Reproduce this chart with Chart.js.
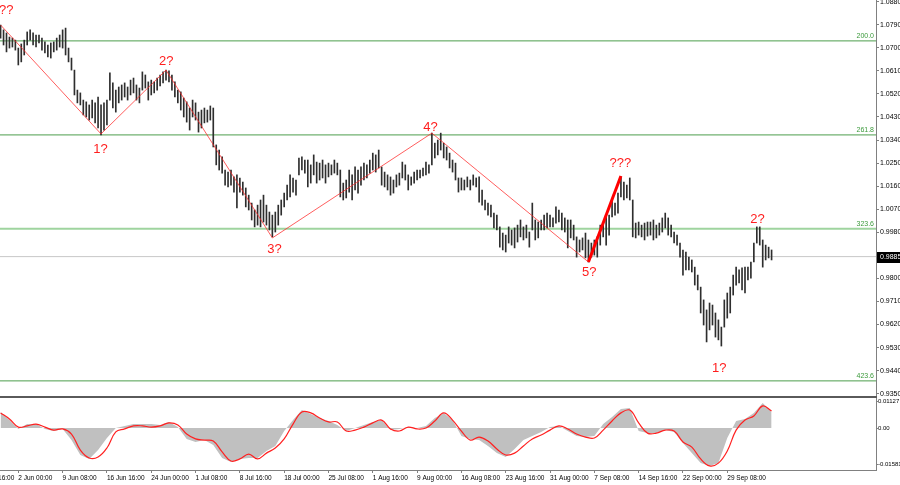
<!DOCTYPE html>
<html><head><meta charset="utf-8">
<script src="https://cdn.jsdelivr.net/npm/chart.js@4.4.1/dist/chart.umd.min.js"></script>
<style>
html,body{margin:0;padding:0;background:#fff;width:900px;height:485px;overflow:hidden;}
#cA{position:absolute;left:0;top:0;}
#cB{position:absolute;left:0;top:398px;}
#sep{position:absolute;left:0;top:396px;width:877px;height:2px;background:#5a5a5a;}
</style></head>
<body>
<canvas id="cA" width="900" height="398"></canvas>
<div id="sep"></div>
<canvas id="cB" width="900" height="87"></canvas>
<script>
// ---------- DATA ----------
const firstBar = -6;           // index of first bar (H4 bars, 15 bars per time label)
const highs = [1.0789,1.0770,1.0758,1.0742,1.0738,1.0730,1.0699,1.0715,1.0730,1.0762,1.0770,1.0758,1.0750,1.0750,1.0738,1.0723,1.0711,1.0719,1.0723,1.0738,1.0750,1.0770,1.0777,1.0699,1.0660,1.0613,1.0535,1.0524,1.0496,1.0489,1.0477,1.0496,1.0485,1.0508,1.0477,1.0485,1.0496,1.0602,1.0563,1.0535,1.0547,1.0555,1.0563,1.0547,1.0574,1.0582,1.0555,1.0543,1.0606,1.0594,1.0567,1.0574,1.0567,1.0582,1.0594,1.0606,1.0613,1.0610,1.0594,1.0567,1.0535,1.0528,1.0504,1.0489,1.0465,1.0496,1.0485,1.0449,1.0457,1.0465,1.0457,1.0473,1.0465,1.0321,1.0301,1.0274,1.0223,1.0215,1.0223,1.0196,1.0204,1.0192,1.0176,1.0153,1.0125,1.0094,1.0067,1.0086,1.0106,1.0125,1.0086,1.0059,1.0047,1.0059,1.0086,1.0106,1.0133,1.0164,1.0204,1.0192,1.0184,1.0270,1.0274,1.0262,1.0262,1.0243,1.0282,1.0254,1.0250,1.0262,1.0243,1.0250,1.0243,1.0262,1.0250,1.0223,1.0172,1.0184,1.0223,1.0204,1.0235,1.0223,1.0235,1.0250,1.0243,1.0262,1.0289,1.0282,1.0301,1.0235,1.0215,1.0204,1.0196,1.0184,1.0204,1.0211,1.0254,1.0243,1.0204,1.0196,1.0215,1.0223,1.0223,1.0231,1.0254,1.0243,1.0367,1.0328,1.0340,1.0367,1.0328,1.0313,1.0289,1.0262,1.0250,1.0192,1.0192,1.0184,1.0196,1.0184,1.0204,1.0192,1.0196,1.0145,1.0106,1.0094,1.0086,1.0055,1.0047,1.0001,0.9977,0.9969,1.0001,0.9989,0.9997,1.0008,1.0028,1.0001,1.0008,0.9981,1.0094,1.0028,1.0020,1.0028,1.0047,1.0055,1.0047,1.0036,1.0079,1.0067,1.0055,1.0036,1.0028,1.0028,1.0008,0.9962,0.9950,0.9958,0.9977,0.9950,0.9938,0.9950,0.9962,1.0008,1.0016,1.0040,1.0047,1.0106,1.0094,1.0133,1.0196,1.0176,1.0164,1.0192,1.0106,1.0016,1.0020,1.0008,1.0016,1.0020,1.0020,1.0028,1.0008,1.0016,1.0036,1.0055,1.0036,1.0008,0.9981,0.9969,0.9938,0.9911,0.9903,0.9883,0.9872,0.9844,0.9813,0.9766,0.9716,0.9677,0.9704,0.9696,0.9665,0.9638,0.9610,0.9716,0.9743,0.9766,0.9813,0.9844,0.9833,0.9841,0.9844,0.9844,0.9864,0.9938,1.0001,1.0001,0.9950,0.9930,0.9922,0.9911];
const lows = [1.0738,1.0711,1.0684,1.0699,1.0703,1.0691,1.0633,1.0645,1.0672,1.0711,1.0730,1.0711,1.0703,1.0719,1.0691,1.0680,1.0664,1.0660,1.0684,1.0691,1.0703,1.0699,1.0672,1.0645,1.0613,1.0516,1.0485,1.0477,1.0438,1.0430,1.0418,1.0426,1.0407,1.0387,1.0360,1.0379,1.0399,1.0496,1.0465,1.0449,1.0485,1.0496,1.0508,1.0496,1.0516,1.0524,1.0496,1.0485,1.0535,1.0543,1.0496,1.0516,1.0524,1.0535,1.0551,1.0563,1.0574,1.0567,1.0535,1.0508,1.0485,1.0457,1.0430,1.0410,1.0379,1.0430,1.0418,1.0371,1.0387,1.0407,1.0410,1.0418,1.0313,1.0243,1.0223,1.0211,1.0164,1.0157,1.0164,1.0137,1.0075,1.0137,1.0125,1.0079,1.0067,1.0028,1.0001,1.0008,1.0001,1.0020,1.0008,0.9989,0.9962,0.9981,1.0008,1.0047,1.0079,1.0106,1.0118,1.0137,1.0125,1.0204,1.0223,1.0211,1.0157,1.0172,1.0204,1.0172,1.0184,1.0192,1.0172,1.0196,1.0204,1.0211,1.0204,1.0118,1.0106,1.0114,1.0137,1.0106,1.0145,1.0133,1.0164,1.0184,1.0192,1.0211,1.0223,1.0215,1.0231,1.0164,1.0157,1.0145,1.0125,1.0133,1.0157,1.0164,1.0192,1.0184,1.0145,1.0164,1.0172,1.0184,1.0192,1.0200,1.0204,1.0211,1.0243,1.0270,1.0282,1.0301,1.0270,1.0262,1.0231,1.0215,1.0184,1.0137,1.0145,1.0145,1.0157,1.0145,1.0164,1.0157,1.0098,1.0086,1.0067,1.0047,1.0040,0.9997,0.9989,0.9922,0.9911,0.9903,0.9938,0.9930,0.9919,0.9942,0.9962,0.9950,0.9958,0.9922,0.9989,0.9950,0.9958,0.9989,0.9989,0.9997,1.0001,1.0001,1.0016,1.0020,0.9989,0.9981,0.9919,0.9958,0.9950,0.9883,0.9903,0.9911,0.9880,0.9864,0.9883,0.9891,0.9883,0.9930,0.9962,0.9930,0.9969,1.0040,1.0047,1.0055,1.0118,1.0106,1.0114,1.0106,0.9962,0.9958,0.9969,0.9962,0.9950,0.9965,0.9969,0.9950,0.9958,0.9969,0.9981,0.9997,0.9969,0.9962,0.9938,0.9930,0.9883,0.9813,0.9833,0.9833,0.9825,0.9774,0.9755,0.9665,0.9618,0.9552,0.9599,0.9618,0.9571,0.9560,0.9536,0.9610,0.9645,0.9665,0.9735,0.9774,0.9782,0.9755,0.9743,0.9794,0.9801,0.9864,0.9938,0.9930,0.9844,0.9872,0.9880,0.9872];

const timeLabels = ['2 Jun 00:00','9 Jun 08:00','16 Jun 16:00','24 Jun 00:00','1 Jul 08:00','8 Jul 16:00','18 Jul 00:00','25 Jul 08:00','1 Aug 16:00','9 Aug 00:00','16 Aug 08:00','23 Aug 16:00','31 Aug 00:00','7 Sep 08:00','14 Sep 16:00','22 Sep 00:00','29 Sep 08:00'];
const timeTickBars = [0,15,30,45,60,75,90,105,120,135,150,165,180,195,210,225,240];
const cutLabel = '26 May 16:00';

const priceTicks = [1.0880,1.0790,1.0700,1.0610,1.0520,1.0430,1.0340,1.0250,1.0160,1.0070,0.9980,0.9800,0.9710,0.9620,0.9530,0.9440,0.9350];
const lastPrice = 0.9885;

const levelNames = ['200.0','261.8','323.6','423.6'];
const levelPrices = [1.0727,1.0360,0.9994,0.9400];

const zigBars = [-6,28,50,86,140,193];
const zigPrices = [1.0789,1.0364,1.0613,0.9958,1.0367,0.9864];
const thickBars = [193,204];
const thickPrices = [0.9864,1.0200];

const waveText = ['??','2?','1?','3?','4?','5?','???','2?','1?'];
const waveBars = [-4.1,50.1,27.8,86.7,139.5,193.3,203.8,250.2,237.3];
const wavePrices = [1.0844,1.0645,1.0305,0.9915,1.0391,0.9825,1.0247,1.0032,0.9450];

// MACD, sampled every 3 bars from bar -6
const macdStart = -6, macdStep = 3;
const macdMain = [0.0069,0.0034,-0.0004,0.0017,0.0017,-0.0004,-0.0013,-0.0004,-0.0052,-0.0116,-0.0133,-0.0095,-0.0043,0.0000,0.0009,0.0017,0.0017,0.0017,0.0013,0.0026,0.0004,-0.0047,-0.0060,-0.0052,-0.0073,-0.0129,-0.0146,-0.0133,-0.0129,-0.0129,-0.0099,-0.0077,-0.0013,0.0034,0.0077,0.0060,0.0043,0.0030,0.0013,-0.0013,0.0000,0.0013,0.0026,0.0034,-0.0009,-0.0004,0.0004,0.0000,0.0009,0.0043,0.0065,0.0034,-0.0034,-0.0047,-0.0052,-0.0077,-0.0108,-0.0125,-0.0090,-0.0052,-0.0034,-0.0017,0.0004,0.0009,-0.0013,-0.0034,-0.0039,-0.0034,0.0017,0.0047,0.0082,0.0086,-0.0013,-0.0022,-0.0022,-0.0009,-0.0017,-0.0065,-0.0108,-0.0151,-0.0163,-0.0151,-0.0043,0.0030,0.0039,0.0065,0.0108,0.0069];
const macdSignal = [0.0065,0.0039,0.0004,0.0009,0.0017,0.0004,-0.0009,-0.0004,-0.0026,-0.0095,-0.0129,-0.0125,-0.0086,-0.0017,-0.0004,0.0009,0.0009,0.0004,0.0009,0.0022,0.0013,-0.0026,-0.0047,-0.0052,-0.0056,-0.0103,-0.0142,-0.0133,-0.0112,-0.0133,-0.0108,-0.0086,-0.0047,0.0017,0.0069,0.0065,0.0043,0.0026,0.0026,-0.0013,-0.0009,0.0004,0.0022,0.0034,-0.0004,-0.0013,0.0004,-0.0004,0.0000,0.0030,0.0065,0.0034,-0.0013,-0.0052,-0.0039,-0.0056,-0.0090,-0.0116,-0.0108,-0.0077,-0.0047,-0.0030,-0.0009,0.0009,-0.0004,-0.0026,-0.0039,-0.0043,-0.0009,0.0030,0.0065,0.0077,0.0022,-0.0022,-0.0022,-0.0009,-0.0013,-0.0060,-0.0082,-0.0133,-0.0163,-0.0151,-0.0099,-0.0009,0.0034,0.0052,0.0095,0.0073];
const macdTicks = [0.01127,0,-0.01581];
const macdTickLabels = ['0.01127','0.00','-0.01581'];

// ---------- CHART SETUP ----------
const X_MIN = -6.2, X_MAX = 290.35;
const PRICE_MIN = 0.93449, PRICE_MAX = 1.08866;
const MACD_MIN = -0.01806, MACD_MAX = 0.0129;
const FONT = 'Liberation Sans';

function noPad(s){ s.paddingTop = 0; s.paddingBottom = 0; s.paddingLeft = 0; s.paddingRight = 0; }

const barData = highs.map((h,k)=>({x:firstBar+k, y:[lows[k],h]}));
const lineOf = (xs,ys)=>xs.map((x,k)=>({x, y:ys[k]}));

const datasets = [{
  type:'bar', data:barData, backgroundColor:'#2e2e2e', borderWidth:0,
  barThickness:1, order:2
}];
levelPrices.forEach((p,k)=>{
  const light = levelNames[k]==='323.6';
  datasets.push({type:'line', data:[{x:X_MIN,y:p},{x:X_MAX,y:p}],
    borderColor: light ? '#9fd49f' : '#4c9e4c', borderWidth: light?2:1,
    pointRadius:0, order:3});
});
datasets.push({type:'line', data:[{x:X_MIN,y:lastPrice},{x:X_MAX,y:lastPrice}],
  borderColor:'#c8c8c8', borderWidth:1, pointRadius:0, order:3});
datasets.push({type:'line', data:lineOf(zigBars,zigPrices), borderColor:'rgba(255,40,40,0.75)',
  borderWidth:1, pointRadius:0, order:0});
datasets.push({type:'line', data:lineOf(thickBars,thickPrices), borderColor:'#ff0000',
  borderWidth:3, pointRadius:0, order:0});

const overlayA = {
  id:'overlayA',
  afterDatasetsDraw(chart){
    const {ctx, chartArea, scales} = chart;
    ctx.save();
    ctx.font = '7px "'+FONT+'"';
    ctx.fillStyle = '#3c9a3c';
    ctx.textAlign = 'right'; ctx.textBaseline = 'bottom';
    levelPrices.forEach((p,k)=>{
      ctx.fillText(levelNames[k], chartArea.right-2, scales.y.getPixelForValue(p)-1);
    });
    ctx.font = '13px "'+FONT+'"';
    ctx.fillStyle = '#ff1e1e';
    ctx.textAlign = 'center'; ctx.textBaseline = 'middle';
    waveText.forEach((t,k)=>{
      ctx.fillText(t, scales.x.getPixelForValue(waveBars[k]), scales.y.getPixelForValue(wavePrices[k]));
    });
    ctx.restore();
  },
  afterDraw(chart){
    const {ctx, chartArea, scales} = chart;
    const y = scales.y.getPixelForValue(lastPrice);
    ctx.save();
    ctx.fillStyle = '#000';
    ctx.fillRect(chartArea.right+1, Math.round(y)-5, 23, 11);
    ctx.fillStyle = '#fff';
    ctx.font = '7px "'+FONT+'"';
    ctx.textAlign='left'; ctx.textBaseline='middle';
    ctx.fillText(lastPrice.toFixed(4), chartArea.right+4, Math.round(y)+0.5);
    ctx.restore();
  }
};

new Chart(document.getElementById('cA'), {
  type:'bar',
  data:{datasets},
  options:{
    responsive:false, animation:false, devicePixelRatio:1, events:[],
    layout:{padding:{top:0,left:0,right:0,bottom:3}},
    plugins:{legend:{display:false}, tooltip:{enabled:false}},
    scales:{
      x:{type:'linear', display:false, min:X_MIN, max:X_MAX, offset:false},
      y:{position:'right', min:PRICE_MIN, max:PRICE_MAX,
        afterFit(s){ s.width = 24; noPad(s); },
        afterBuildTicks(s){ s.ticks = priceTicks.map(v=>({value:v})); },
        ticks:{callback:(v)=>Number(v).toFixed(4), font:{family:FONT,size:7}, color:'#000', padding:1, autoSkip:false},
        grid:{drawOnChartArea:false, drawTicks:true, tickLength:3, color:'#808080'},
        border:{display:true, color:'#808080'}
      }
    }
  },
  plugins:[overlayA]
});

const macdX = macdMain.map((_,k)=>macdStart+k*macdStep);
const overlayB = {
  id:'overlayB',
  afterDraw(chart){
    const {ctx, scales, chartArea} = chart;
    ctx.save();
    ctx.font = '6.5px "'+FONT+'"';
    ctx.fillStyle = '#000';
    ctx.textAlign='right'; ctx.textBaseline='middle';
    ctx.fillText(cutLabel, scales.x.getPixelForValue(timeTickBars[0])-4, chartArea.bottom+8);
    ctx.restore();
  }
};
new Chart(document.getElementById('cB'), {
  type:'line',
  data:{datasets:[
    {data:lineOf(macdX,macdSignal), borderColor:'#ff2020', borderWidth:1.2, pointRadius:0, tension:0.4, fill:false, order:0},
    {data:lineOf(macdX,macdMain), borderColor:'rgba(0,0,0,0)', borderWidth:0, backgroundColor:'#c0c0c0', pointRadius:0, tension:0, fill:'origin', order:1}
  ]},
  options:{
    responsive:false, animation:false, devicePixelRatio:1, events:[],
    layout:{padding:0},
    plugins:{legend:{display:false}, tooltip:{enabled:false}},
    scales:{
      x:{type:'linear', min:X_MIN, max:X_MAX, offset:false,
        afterFit(s){ s.height = 15; noPad(s); },
        afterBuildTicks(s){ s.ticks = timeTickBars.map(v=>({value:v})); },
        ticks:{callback:(v,i)=>timeLabels[i], align:'start', font:{family:FONT,size:6.5}, color:'#000', padding:1, maxRotation:0, autoSkip:false},
        grid:{drawOnChartArea:false, drawTicks:true, tickLength:3, color:'#808080'},
        border:{display:true, color:'#808080'}
      },
      y:{position:'right', min:MACD_MIN, max:MACD_MAX,
        afterFit(s){ s.width = 24; noPad(s); },
        afterBuildTicks(s){ s.ticks = macdTicks.map(v=>({value:v})); },
        ticks:{callback:(v,i)=>macdTickLabels[i], font:{family:FONT,size:6}, color:'#000', padding:0, autoSkip:false},
        grid:{drawOnChartArea:false, drawTicks:true, tickLength:2, color:'#808080'},
        border:{display:true, color:'#808080'}
      }
    }
  },
  plugins:[overlayB]
});
</script>
</body></html>
